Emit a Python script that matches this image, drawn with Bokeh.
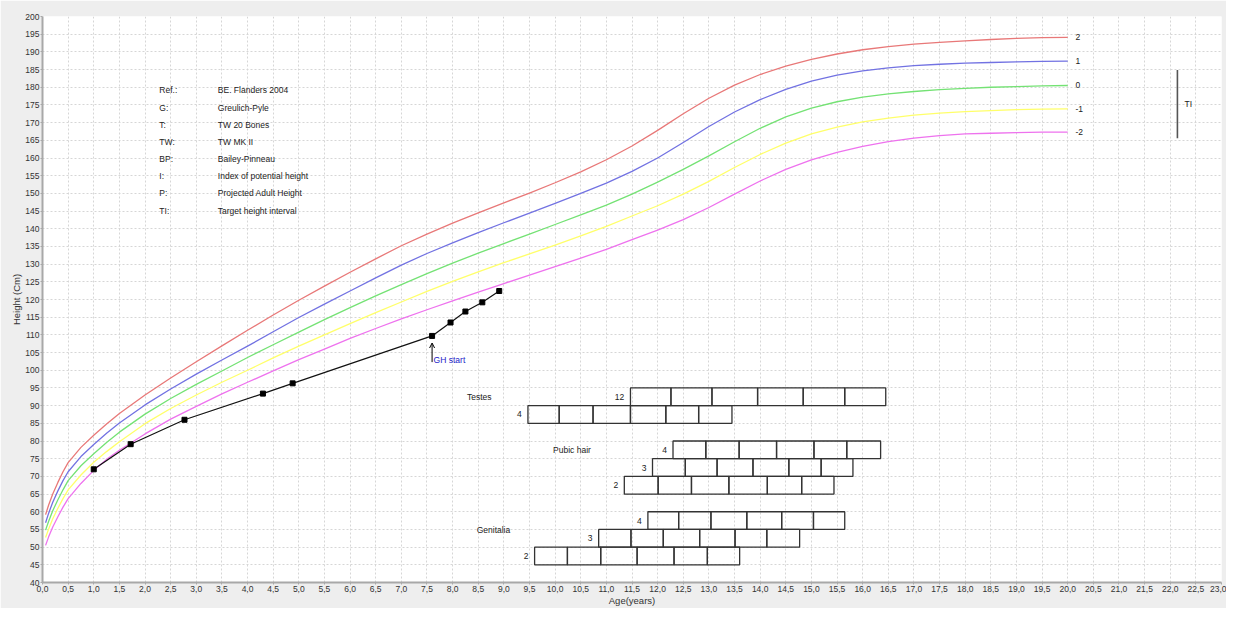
from bokeh.plotting import figure
from bokeh.models import FixedTicker, Arrow, OpenHead
from bokeh.embed import file_html
from bokeh.resources import INLINE
from bokeh.core.properties import value

# ---------------- data ----------------
ages = [0.06, 0.12, 0.2, 0.3, 0.4, 0.5, 0.75, 1, 1.25, 1.5, 2, 2.5, 3, 3.5, 4, 4.5, 5,
        5.5, 6, 6.5, 7, 7.5, 8, 8.5, 9, 9.5, 10, 10.5, 11, 11.5, 12, 12.5, 13, 13.5,
        14, 14.5, 15, 15.5, 16, 16.5, 17, 17.5, 18, 18.5, 19, 19.5, 20]

sd_plus2 = [59.2, 61.9, 65.0, 68.3, 71.3, 73.9, 78.2, 81.6, 84.8, 87.8, 93.0, 97.8, 102.4,
            106.9, 111.3, 115.6, 119.8, 123.8, 127.7, 131.5, 135.2, 138.5, 141.6, 144.5,
            147.3, 150.1, 153.0, 156.1, 159.5, 163.4, 167.8, 172.5, 176.9, 180.6, 183.6,
            186.0, 187.9, 189.4, 190.6, 191.5, 192.2, 192.7, 193.1, 193.5, 193.8, 194.0,
            194.1]
sd_plus1 = [56.9, 59.6, 62.7, 65.9, 68.8, 71.3, 75.6, 79.0, 82.2, 85.1, 90.2, 94.7, 98.9,
            102.9, 106.8, 110.9, 114.9, 118.7, 122.4, 126.1, 129.7, 133.0, 136.0, 138.9,
            141.7, 144.4, 147.2, 150.0, 152.9, 156.2, 160.0, 164.4, 168.9, 173.0, 176.5,
            179.4, 181.7, 183.4, 184.6, 185.5, 186.1, 186.5, 186.8, 187.0, 187.2, 187.3,
            187.4]
sd_zero = [54.8, 57.3, 60.3, 63.4, 66.2, 68.8, 73.0, 76.4, 79.6, 82.5, 87.6, 92.0, 96.0,
           99.8, 103.6, 107.2, 110.8, 114.3, 117.7, 121.0, 124.2, 127.3, 130.3, 133.1,
           135.8, 138.5, 141.2, 143.9, 146.7, 149.8, 153.2, 156.8, 160.6, 164.6, 168.4,
           171.6, 174.1, 175.9, 177.2, 178.1, 178.8, 179.3, 179.7, 180.0, 180.2, 180.4,
           180.5]
sd_minus1 = [52.7, 55.1, 58.0, 61.0, 63.7, 66.2, 70.4, 74.0, 77.0, 79.8, 84.9, 89.2, 93.0,
             96.6, 100.0, 103.5, 106.8, 110.0, 113.2, 116.3, 119.3, 122.3, 125.1, 127.8,
             130.4, 132.9, 135.4, 138.0, 140.7, 143.6, 146.5, 149.8, 153.4, 157.3, 161.0,
             164.2, 166.8, 168.7, 170.2, 171.3, 172.1, 172.7, 173.1, 173.4, 173.7, 173.8,
             173.9]
sd_minus2 = [50.5, 52.9, 55.7, 58.6, 61.3, 63.7, 68.0, 71.7, 74.8, 77.4, 82.0, 86.2, 89.8,
             93.3, 96.6, 99.8, 103.0, 106.0, 109.0, 111.8, 114.5, 117.1, 119.6, 122.1,
             124.5, 126.9, 129.3, 131.7, 134.2, 136.9, 139.6, 142.6, 146.0, 149.8, 153.5,
             156.8, 159.5, 161.6, 163.3, 164.6, 165.6, 166.3, 166.8, 167.0, 167.2, 167.3,
             167.3]
sd_names = ["2", "1", "0", "-1", "-2"]

patient_age = [1.0, 1.72, 2.77, 4.30, 4.88, 7.60, 7.96, 8.25, 8.58, 8.91]
patient_height = [72.0, 79.1, 86.0, 93.4, 96.3, 109.7, 113.5, 116.6, 119.2, 122.4]
gh_start_age = 7.60

testes_12 = [11.47, 12.26, 13.06, 13.95, 14.84, 15.65, 16.45]
testes_4 = [9.47, 10.08, 10.74, 11.47, 12.16, 12.80, 13.45]
pubic_4 = [12.30, 12.94, 13.59, 14.32, 15.05, 15.69, 16.35]
pubic_3 = [11.90, 12.54, 13.16, 13.86, 14.56, 15.19, 15.81]
pubic_2 = [11.35, 12.01, 12.66, 13.39, 14.14, 14.81, 15.44]
genit_4 = [11.81, 12.41, 13.04, 13.74, 14.42, 15.04, 15.65]
genit_3 = [10.85, 11.48, 12.11, 12.82, 13.51, 14.13, 14.77]
genit_2 = [9.60, 10.24, 10.89, 11.60, 12.32, 12.97, 13.60]

ti_low, ti_high = 165.6, 184.9

legend_keys = ["Ref.:", "G:", "T:", "TW:", "BP:", "I:", "P:", "TI:"]
legend_vals = ["BE. Flanders 2004", "Greulich-Pyle", "TW 20 Bones", "TW MK II",
               "Bailey-Pinneau", "Index of potential height", "Projected Adult Height",
               "Target height interval"]

x_ticks = [i * 0.5 for i in range(47)]
x_tick_labels = [("%.1f" % t).replace(".", ",") for t in x_ticks]
y_ticks = list(range(40, 201, 5))

# ---------------- styles / layout ----------------
FONT = value("Liberation Sans")
SMALL = value("8.5px")
sd_colors = ["#e87878", "#7272e2", "#74e274", "#ffff6a", "#ee72ee"]

p = figure(width=1226, height=608, x_range=(0, 23), y_range=(40, 200),
           output_backend="svg", toolbar_location=None,
           min_border_left=42, min_border_right=5, min_border_top=16, min_border_bottom=22,
           background_fill_color="white", border_fill_color="#eeeeee",
           outline_line_color=None)

p.xaxis.ticker = FixedTicker(ticks=x_ticks)
p.xaxis.major_label_overrides = {t: s for t, s in zip(x_ticks, x_tick_labels)}
p.yaxis.ticker = FixedTicker(ticks=y_ticks)
p.yaxis.major_label_overrides = {t: str(t) for t in y_ticks}
for ax in (p.xaxis[0], p.yaxis[0]):
    ax.axis_line_color = "#a8a8a8"
    ax.axis_line_width = 2
    ax.major_tick_line_color = "#a8a8a8"
    ax.major_tick_out = 2
    ax.major_tick_in = 0
    ax.minor_tick_line_color = None
    ax.major_label_text_font = "Liberation Sans"
    ax.major_label_text_font_size = "8.5px"
    ax.major_label_text_color = "#333333"
    ax.major_label_standoff = 1
    ax.axis_label_text_font = "Liberation Sans"
    ax.axis_label_text_font_size = "9.5px"
    ax.axis_label_text_font_style = "normal"
    ax.axis_label_text_color = "#333333"
    ax.axis_label_standoff = 0
p.xaxis.axis_label = "Age(years)"
p.yaxis.axis_label = "Height (Cm)"

p.xgrid.ticker = FixedTicker(ticks=x_ticks)
p.ygrid.ticker = FixedTicker(ticks=y_ticks)
for g in (p.xgrid[0], p.ygrid[0]):
    g.grid_line_color = "#d6d6d6"
    g.grid_line_dash = "2 2"
    g.grid_line_width = 1

# SD curves
sd_series = [sd_plus2, sd_plus1, sd_zero, sd_minus1, sd_minus2]
for vals, col in zip(sd_series, sd_colors):
    p.line(ages, vals, line_color=col, line_width=1.3, line_join="round")

p.text(x=[ages[-1] + 0.15] * 5, y=[s[-1] for s in sd_series], text=sd_names,
       text_font=FONT, text_font_size=SMALL, text_color="#222222",
       text_align="left", text_baseline="middle")

# patient
p.line(patient_age, patient_height, line_color="#111111", line_width=1.2)
p.scatter(patient_age, patient_height, marker="square", size=5,
          fill_color="#000000", line_color="#000000")

gh_h = patient_height[patient_age.index(gh_start_age)]
p.add_layout(Arrow(end=OpenHead(size=5, line_color="#000000", line_width=1),
                   x_start=gh_start_age, y_start=gh_h - 7.4,
                   x_end=gh_start_age, y_end=gh_h - 2.0,
                   line_color="#000000", line_width=1))
p.text(x=[gh_start_age + 0.03], y=[gh_h - 6.9], text=["GH start"],
       text_font=FONT, text_font_size=SMALL, text_color="#2323c8",
       text_align="left", text_baseline="middle")

# Tanner stage bars
rows = [
    (testes_12, 90, 95, "12"), (testes_4, 85, 90, "4"),
    (pubic_4, 75, 80, "4"), (pubic_3, 70, 75, "3"), (pubic_2, 65, 70, "2"),
    (genit_4, 55, 60, "4"), (genit_3, 50, 55, "3"), (genit_2, 45, 50, "2"),
]
for edges, b, t, lab in rows:
    p.quad(left=edges[:-1], right=edges[1:], bottom=[b] * (len(edges) - 1),
           top=[t] * (len(edges) - 1), fill_color=None, line_color="#333333",
           line_width=1.3)
    p.text(x=[edges[0] - 0.12], y=[(b + t) / 2], text=[lab],
           text_font=FONT, text_font_size=SMALL, text_color="#222222",
           text_align="right", text_baseline="middle")

p.text(x=[8.28, 9.96, 8.47], y=[92.4, 77.4, 54.8],
       text=["Testes", "Pubic hair", "Genitalia"],
       text_font=FONT, text_font_size=SMALL, text_color="#222222",
       text_align="left", text_baseline="middle")

# target height interval
p.segment(x0=[22.14], y0=[ti_low], x1=[22.14], y1=[ti_high],
          line_color="#555555", line_width=1.6)
p.text(x=[22.28], y=[(ti_low + ti_high) / 2], text=["TI"],
       text_font=FONT, text_font_size=SMALL, text_color="#222222",
       text_align="left", text_baseline="middle")

# legend text block
ly = [179.1 - 4.85 * i for i in range(len(legend_keys))]
p.text(x=[2.28] * len(legend_keys), y=ly, text=legend_keys,
       text_font=FONT, text_font_size=SMALL, text_color="#222222",
       text_align="left", text_baseline="middle")
p.text(x=[3.42] * len(legend_vals), y=ly, text=legend_vals,
       text_font=FONT, text_font_size=SMALL, text_color="#222222",
       text_align="left", text_baseline="middle")

open("out.html", "w").write(file_html(p, INLINE))
